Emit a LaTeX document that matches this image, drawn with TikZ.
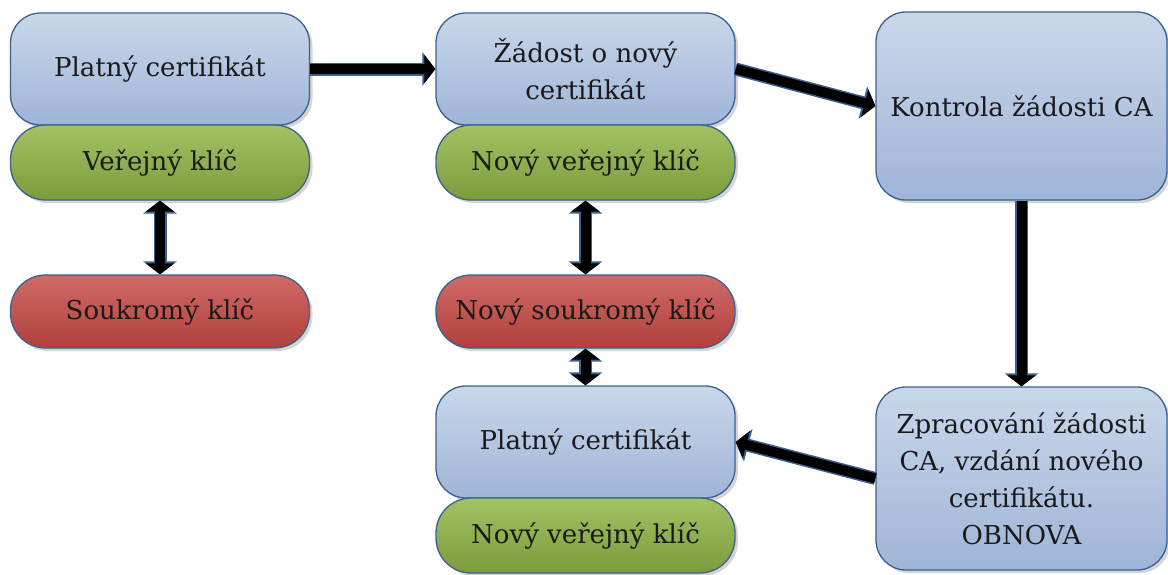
\documentclass[tikz,border=0pt]{standalone}
\usepackage{fontspec}
\setmainfont{DejaVu Serif}
\usetikzlibrary{arrows.meta,shadows}

\definecolor{edgeblue}{HTML}{3A6191}
\definecolor{bluetop}{HTML}{C9D7EA}
\definecolor{bluebot}{HTML}{9FB5D7}
\definecolor{greentop}{HTML}{A3C263}
\definecolor{greenbot}{HTML}{7C9B3C}
\definecolor{redtop}{HTML}{D06A67}
\definecolor{redbot}{HTML}{B0403D}
\definecolor{txt}{HTML}{1A1A1A}

\begin{document}
\begin{tikzpicture}[x=1pt, y=-1pt,
  box/.style={draw=edgeblue, line width=1.3pt, align=center, inner sep=0pt,
    text=txt, font=\rmfamily\fontsize{26}{37}\selectfont,
    drop shadow={shadow xshift=3pt, shadow yshift=-3pt, opacity=0.3, fill=black!55}},
  cert/.style={box, rounded corners=30pt, top color=bluetop, bottom color=bluebot,
    minimum width=299pt, minimum height=112pt},
  pubkey/.style={box, rounded corners=35pt, top color=greentop, bottom color=greenbot,
    minimum width=299pt, minimum height=75pt},
  privkey/.style={box, rounded corners=35pt, top color=redtop, bottom color=redbot,
    minimum width=299pt, minimum height=73pt},
  castep/.style={box, rounded corners=30pt, top color=bluetop, bottom color=bluebot,
    minimum width=291pt},
  conn/.style={line width=10pt, draw=black, -{Triangle[length=11pt,width=28pt]},
    preaction={draw=edgeblue, line width=13pt, -{Triangle[length=13pt,width=33pt]}}},
  biconn/.style={line width=10pt, draw=black,
    {Triangle[length=11pt,width=28pt]}-{Triangle[length=11pt,width=28pt]},
    preaction={draw=edgeblue, line width=13pt,
      {Triangle[length=13pt,width=33pt]}-{Triangle[length=13pt,width=33pt]}}}
]
\useasboundingbox (0,0) rectangle (1168,574);

% left column: current certificate and its key pair
\node[cert]    (oldcert) at (160,69)    {Platný certifikát};
\node[pubkey]  (oldpub)  at (160,162.5) {Veřejný klíč};
\node[privkey] (oldpriv) at (160,311.5) {Soukromý klíč};

% middle column: request and the new key pair
\node[cert]    (request) at (585.5,69)    {Žádost o nový\\certifikát};
\node[pubkey]  (newpub)  at (585.5,162.5) {Nový veřejný klíč};
\node[privkey] (newpriv) at (585.5,311.5) {Nový soukromý klíč};
\node[cert]    (newcert) at (585.5,442)   {Platný certifikát};
\node[pubkey]  (newpub2) at (585.5,535.5) {Nový veřejný klíč};

% right column: certification authority
\node[castep, minimum height=188pt] (check)   at (1021.5,106)   {Kontrola žádosti CA};
\node[castep, minimum height=183pt] (process) at (1021.5,478.5)
  {Zpracování žádosti\\CA, vzdání nového\\certifikátu.\\OBNOVA};

% connectors
\draw[conn] (oldcert.east) -- (request.west);
\draw[conn] (request.east) -- (check.west);
\draw[conn] (check.south) -- (process.north);
\draw[conn] (process.west) -- (newcert.east);
\draw[biconn] (oldpub.south) -- (oldpriv.north);
\draw[biconn] (newpub.south) -- (newpriv.north);
\draw[biconn] (newpriv.south) -- (newcert.north);
\end{tikzpicture}
\end{document}
